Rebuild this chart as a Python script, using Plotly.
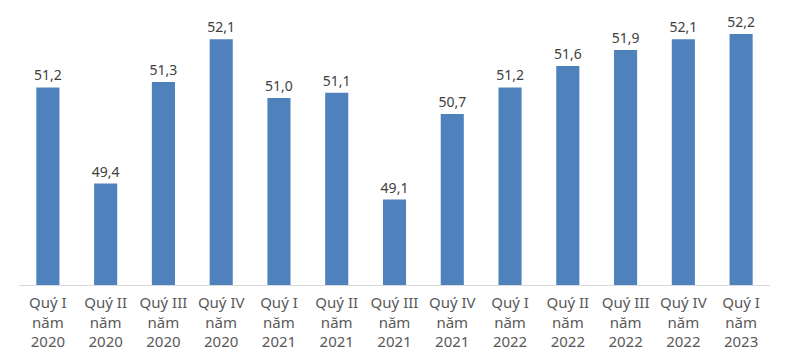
import plotly.graph_objects as go

quarters = ["Quý I", "Quý II", "Quý III", "Quý IV", "Quý I", "Quý II", "Quý III",
            "Quý IV", "Quý I", "Quý II", "Quý III", "Quý IV", "Quý I"]
years = ["2020", "2020", "2020", "2020", "2021", "2021", "2021",
         "2021", "2022", "2022", "2022", "2022", "2023"]
values = [51.2, 49.4, 51.3, 52.1, 51.0, 51.1, 49.1, 50.7, 51.2, 51.6, 51.9, 52.1, 52.2]

categories = [f"{q}<br>năm<br>{y}" for q, y in zip(quarters, years)]

fig = go.Figure(go.Bar(
    x=categories, y=values,
    marker=dict(color="#4F81BD", line=dict(width=0)),
    texttemplate="%{y:.1f}", textposition="outside",
    constraintext="none",
    textfont=dict(size=14, color="#404040", family="Noto Sans"),
    cliponaxis=False,
))
fig.update_layout(
    width=790, height=361,
    margin=dict(l=11, r=28, t=10, b=84, autoexpand=False),
    paper_bgcolor="white", plot_bgcolor="white",
    bargap=0.6, separators=",.",
    showlegend=False,
    font=dict(family="Noto Sans", color="#595959"),
    xaxis=dict(showline=True, linecolor="#D9D9D9", linewidth=1,
               tickfont=dict(size=15, color="#595959", family="Noto Sans"),
               ticks="", showgrid=False, automargin=False, ticklabelstandoff=4),
    yaxis=dict(range=[47.5, 52.5], visible=False, showgrid=False, automargin=False),
)
fig.write_html("out.html")
